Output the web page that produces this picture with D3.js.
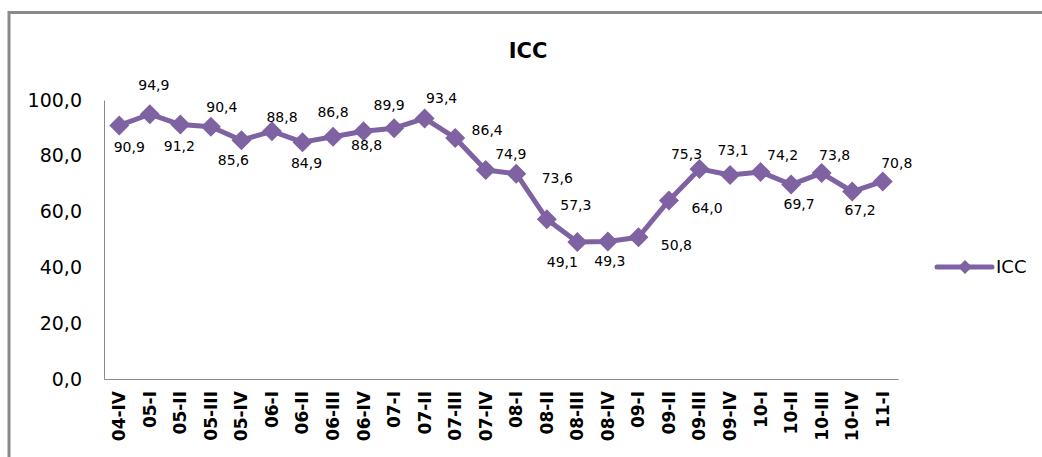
<!DOCTYPE html>
<html>
<head>
<meta charset="utf-8">
<script src="https://cdn.jsdelivr.net/npm/d3@7"></script>
<style>
  body { margin: 0; background: #fff; }
  svg { display: block; font-family: "DejaVu Sans", sans-serif; }
</style>
</head>
<body>
<script>
// Size of the page
var w = 1042;
var h = 457;

// quarters on the x axis
var quarters = ["04-IV", "05-I", "05-II", "05-III", "05-IV", "06-I", "06-II", "06-III", "06-IV",
                "07-I", "07-II", "07-III", "07-IV", "08-I", "08-II", "08-III", "08-IV",
                "09-I", "09-II", "09-III", "09-IV", "10-I", "10-II", "10-III", "10-IV", "11-I"];

// ICC values
var icc = [90.9, 94.9, 91.2, 90.4, 85.6, 88.8, 84.9, 86.8, 88.8, 89.9, 93.4, 86.4, 74.9,
           73.6, 57.3, 49.1, 49.3, 50.8, 64.0, 75.3, 73.1, 74.2, 69.7, 73.8, 67.2, 70.8];

// y axis ticks
var yTicks = [0, 20, 40, 60, 80, 100];

// where each data label sits relative to its point (dx, dy)
var labelOffset = [[10, 22], [4, -29], [-1, 22], [11, -20], [-8, 20], [10, -14], [4, 21],
                   [0, -25], [3, 14], [-5, -23], [17, -20], [32, -8], [25, -16], [41, 4],
                   [29, -14], [-15, 20], [2, 20], [38, 8], [38, 8], [-13, -15], [3, -25],
                   [22, -17], [8, 20], [13, -18], [8, 19], [14, -18]];

var purple = "#7f62a1";
var comma = function(v) { return v.toFixed(1).replace(".", ","); };

var svg = d3.select("body")
            .append("svg")
            .attr("width", w)
            .attr("height", h);

// chart border (runs off the right and bottom edges)
svg.append("rect")
   .attr("x", 9)
   .attr("y", 12.5)
   .attr("width", 1060)
   .attr("height", 470)
   .attr("fill", "none")
   .attr("stroke", "#8a8a8a")
   .attr("stroke-width", 3);

// scales
var x = d3.scaleBand()
    .domain(quarters)
    .range([104, 898]);

var y = d3.scaleLinear()
    .domain([0, 100])
    .range([379, 100]);

// title
svg.append("text")
   .attr("x", 528)
   .attr("y", 58)
   .attr("text-anchor", "middle")
   .style("font-size", "21px")
   .style("font-weight", "bold")
   .text("ICC");

// y axis
var yAxis = svg.append("g")
   .attr("transform", "translate(104,0)")
   .call(d3.axisLeft(y).tickValues(yTicks).tickSize(0).tickPadding(22).tickFormat(comma));
yAxis.select(".domain").attr("stroke", "#8a8a8a");
yAxis.selectAll("text")
   .style("font-size", "19px")
   .style("font-family", "DejaVu Sans")
   .attr("fill", "#000");

// x axis
var xAxis = svg.append("g")
   .attr("transform", "translate(0,379)")
   .call(d3.axisBottom(x).tickSize(0).tickPadding(0));
xAxis.select(".domain").attr("stroke", "#8a8a8a");
xAxis.selectAll("text")
   .attr("transform", "translate(0,12) rotate(-90)")
   .attr("text-anchor", "end")
   .attr("dy", "0.35em")
   .attr("y", 0)
   .attr("x", 0)
   .style("font-size", "17px")
   .style("font-weight", "bold")
   .style("font-family", "DejaVu Sans")
   .attr("fill", "#000");

// the line
var cx = function(d, i) { return x(quarters[i]) + x.bandwidth() / 2; };
var line = d3.line()
    .x(cx)
    .y(function(d) { return y(d); });

svg.append("path")
   .datum(icc)
   .attr("d", line)
   .attr("fill", "none")
   .attr("stroke", purple)
   .attr("stroke-width", 5)
   .attr("stroke-linejoin", "round");

// diamond markers
var diamond = "M0,-10L10,0L0,10L-10,0Z";
svg.selectAll("path.marker")
   .data(icc)
   .enter()
   .append("path")
   .attr("class", "marker")
   .attr("d", diamond)
   .attr("transform", function(d, i) { return "translate(" + cx(d, i) + "," + y(d) + ")"; })
   .attr("fill", purple);

// data labels
svg.selectAll("text.lbl")
   .data(icc)
   .enter()
   .append("text")
   .attr("class", "lbl")
   .attr("x", function(d, i) { return cx(d, i) + labelOffset[i][0]; })
   .attr("y", function(d, i) { return y(d) + labelOffset[i][1]; })
   .attr("dy", "0.35em")
   .attr("text-anchor", "middle")
   .style("font-size", "14px")
   .attr("fill", "#000")
   .text(comma);

// legend
var legend = svg.append("g").attr("transform", "translate(937,267)");
legend.append("line")
   .attr("x1", 0).attr("x2", 55)
   .attr("stroke", purple)
   .attr("stroke-width", 5)
   .attr("stroke-linecap", "round");
legend.append("path")
   .attr("d", "M0,-7L7,0L0,7L-7,0Z")
   .attr("transform", "translate(28,0)")
   .attr("fill", purple);
legend.append("text")
   .attr("x", 59)
   .attr("dy", "0.35em")
   .style("font-size", "18px")
   .attr("fill", "#000")
   .text("ICC");
</script>
</body>
</html>
